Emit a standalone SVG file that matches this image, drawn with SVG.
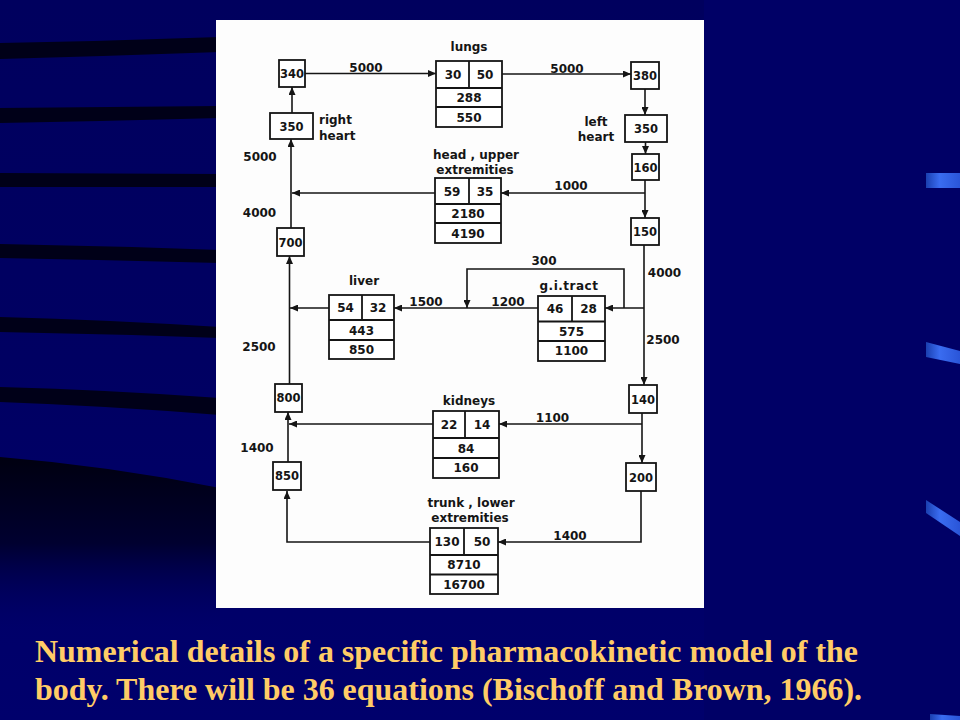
<svg xmlns="http://www.w3.org/2000/svg" width="960" height="720" viewBox="0 0 960 720">
<defs>
<style>
.bx{fill:#fff;stroke:#151515;stroke-width:1.8}
.dv{stroke:#151515;stroke-width:1.8;fill:none}
.t{font-family:"DejaVu Sans",sans-serif;font-weight:bold;font-size:12px;fill:#151515;text-anchor:middle;dominant-baseline:central}
.s{font-size:11.5px}
.ln{fill:none;stroke:#151515;stroke-width:1.6}
.ar{marker-end:url(#ah)}
.dk{fill:#000018}
.cap{font-family:"Liberation Serif","Times New Roman",serif;font-weight:bold;font-size:32px;fill:#FFCC66}
</style>
<marker id="ah" markerWidth="8" markerHeight="7" refX="8" refY="3.5" orient="auto" markerUnits="userSpaceOnUse">
<path d="M0,0 L8,3.5 L0,7 z" fill="#151515"/>
</marker>
<linearGradient id="bg" x1="0" y1="0" x2="0" y2="1">
<stop offset="0" stop-color="#00005e"/>
<stop offset="0.5" stop-color="#000062"/>
<stop offset="1" stop-color="#00006c"/>
</linearGradient>
<linearGradient id="dark" x1="0" y1="0" x2="0" y2="1">
<stop offset="0" stop-color="#000010"/>
<stop offset="0.5" stop-color="#000030"/>
<stop offset="1" stop-color="#000062" stop-opacity="0"/>
</linearGradient>
<linearGradient id="bl" x1="0" y1="0" x2="1" y2="0">
<stop offset="0" stop-color="#1a3fb0"/>
<stop offset="0.4" stop-color="#3a6cf0"/>
<stop offset="1" stop-color="#2a55d8"/>
</linearGradient>
</defs>

<g id="background">
<rect x="0" y="0" width="960" height="720" fill="url(#bg)"/>
<rect x="704" y="0" width="256" height="720" fill="#000066"/>
<path class="dk" d="M0,43 Q110,41 220,37 L220,52 Q110,56 0,59 Z"/>
<path class="dk" d="M0,108 Q110,107 220,106 L220,118 Q110,121 0,123 Z"/>
<path class="dk" d="M0,173 L220,174 L220,187 L0,187 Z"/>
<path class="dk" d="M0,244 Q110,246 220,250 L220,263 Q110,260 0,258 Z"/>
<path class="dk" d="M0,317 Q110,320 220,327 L220,338 Q110,334 0,332 Z"/>
<path class="dk" d="M0,387 Q110,390 220,398 L220,415 Q110,406 0,402 Z"/>
<path d="M0,457 Q110,466 220,488 L220,630 L0,630 Z" fill="url(#dark)"/>
<path d="M926,173 L960,173 L960,188 L926,188 Z" fill="url(#bl)"/>
<path d="M926,342 L960,351 L960,364 L926,357 Z" fill="url(#bl)"/>
<path d="M926,500 L960,522 L960,536 L926,513 Z" fill="url(#bl)"/>
<path d="M930,714 L960,716 L960,720 L930,720 Z" fill="url(#bl)"/>
</g>

<rect id="panel" x="216" y="20" width="488" height="588" fill="#fdfdfd"/>

<g id="connectors">
<path class="ln ar" d="M305,73.5 H436"/>
<path class="ln ar" d="M502,74 H631"/>
<path class="ln ar" d="M645,89 V115"/>
<path class="ln ar" d="M645.5,142 V154"/>
<path class="ln ar" d="M645,180 V218"/>
<path class="ln ar" d="M645,193 H501"/>
<path class="ln ar" d="M435,193 H292"/>
<path class="ln ar" d="M291,228 V139"/>
<path class="ln ar" d="M292,113 V87"/>
<path class="ln ar" d="M644,245 V385"/>
<path class="ln ar" d="M644,308 H605"/>
<path class="ln ar" d="M624,308 V269 H467 V308"/>
<path class="ln ar" d="M538,308 H394"/>
<path class="ln ar" d="M329,308 H290"/>
<path class="ln ar" d="M289.5,384 V256"/>
<path class="ln ar" d="M642,413 V463"/>
<path class="ln ar" d="M642,424 H499"/>
<path class="ln ar" d="M433,424 H289"/>
<path class="ln ar" d="M288,462 V412"/>
<path class="ln ar" d="M641,491 V542 H498"/>
<path class="ln ar" d="M430,542 H287 V491"/>
</g>

<g id="flow-labels">
<text class="t" x="366" y="68">5000</text>
<text class="t" x="567" y="68.5">5000</text>
<text class="t" x="260" y="157">5000</text>
<text class="t" x="571" y="186">1000</text>
<text class="t" x="259.5" y="213">4000</text>
<text class="t" x="544" y="261">300</text>
<text class="t" x="664.5" y="273">4000</text>
<text class="t" x="426" y="302">1500</text>
<text class="t" x="508" y="302">1200</text>
<text class="t" x="663" y="339.5">2500</text>
<text class="t" x="259" y="347">2500</text>
<text class="t" x="552.5" y="418">1100</text>
<text class="t" x="257" y="448">1400</text>
<text class="t" x="570" y="536">1400</text>
</g>

<g id="b340"><rect class="bx" x="279" y="60" width="26" height="27"/><text class="t s" x="292" y="74">340</text></g>
<g id="right-heart"><rect class="bx" x="270" y="113" width="43" height="26"/><text class="t s" x="291.5" y="126.5">350</text>
<text class="t" x="319" y="120" style="text-anchor:start">right</text><text class="t" x="319" y="136" style="text-anchor:start">heart</text></g>
<g id="b700"><rect class="bx" x="277" y="228" width="27" height="28"/><text class="t s" x="290.5" y="242.5">700</text></g>
<g id="b800"><rect class="bx" x="275" y="384" width="27" height="28"/><text class="t s" x="288.5" y="398">800</text></g>
<g id="b850"><rect class="bx" x="273" y="462" width="28" height="28"/><text class="t s" x="287" y="476">850</text></g>
<g id="b380"><rect class="bx" x="631" y="62" width="28" height="27"/><text class="t s" x="645" y="76">380</text></g>
<g id="left-heart"><rect class="bx" x="625" y="115" width="42" height="27"/><text class="t s" x="646" y="128.5">350</text>
<text class="t" x="596" y="122">left</text><text class="t" x="596" y="137">heart</text></g>
<g id="b160"><rect class="bx" x="632" y="154" width="27" height="26"/><text class="t s" x="645.5" y="167.5">160</text></g>
<g id="b150"><rect class="bx" x="631" y="218" width="28" height="27"/><text class="t s" x="645" y="231.5">150</text></g>
<g id="b140"><rect class="bx" x="629" y="385" width="28" height="28"/><text class="t s" x="643" y="399.5">140</text></g>
<g id="b200"><rect class="bx" x="626" y="463" width="30" height="28"/><text class="t s" x="641" y="477.5">200</text></g>

<g id="lungs">
<text class="t" x="469" y="47">lungs</text>
<rect class="bx" x="436" y="61" width="66" height="66"/>
<path class="dv" d="M436,88 H502 M436,107 H502 M469,61 V88"/>
<text class="t" x="453" y="75">30</text><text class="t" x="485" y="75">50</text>
<text class="t" x="469" y="98">288</text><text class="t" x="469" y="117.5">550</text>
</g>
<g id="head">
<text class="t" x="476" y="155">head , upper</text>
<text class="t" x="475" y="170">extremities</text>
<rect class="bx" x="435" y="178" width="66" height="65"/>
<path class="dv" d="M435,204 H501 M435,223 H501 M469,178 V204"/>
<text class="t" x="452" y="191.5">59</text><text class="t" x="485" y="191.5">35</text>
<text class="t" x="468" y="214">2180</text><text class="t" x="468" y="233.5">4190</text>
</g>
<g id="liver">
<text class="t" x="364" y="281">liver</text>
<rect class="bx" x="329" y="295" width="65" height="64"/>
<path class="dv" d="M329,320 H394 M329,340 H394 M362,295 V320"/>
<text class="t" x="345.5" y="308">54</text><text class="t" x="378" y="308">32</text>
<text class="t" x="361.5" y="330.5">443</text><text class="t" x="361.5" y="350">850</text>
</g>
<g id="gi-tract">
<text class="t" x="569" y="286" style="letter-spacing:0.5px">g.i.tract</text>
<rect class="bx" x="538" y="296" width="67" height="65"/>
<path class="dv" d="M538,321.5 H605 M538,341 H605 M572,296 V321.5"/>
<text class="t" x="555" y="309">46</text><text class="t" x="588.5" y="309">28</text>
<text class="t" x="571.5" y="331.5">575</text><text class="t" x="571.5" y="351">1100</text>
</g>
<g id="kidneys">
<text class="t" x="469" y="401">kidneys</text>
<rect class="bx" x="433" y="411" width="66" height="67"/>
<path class="dv" d="M433,438 H499 M433,458 H499 M465,411 V438"/>
<text class="t" x="449" y="425">22</text><text class="t" x="482" y="425">14</text>
<text class="t" x="466" y="448.5">84</text><text class="t" x="466" y="468">160</text>
</g>
<g id="trunk">
<text class="t" x="471" y="503">trunk , lower</text>
<text class="t" x="470" y="517.5">extremities</text>
<rect class="bx" x="430" y="528" width="68" height="66"/>
<path class="dv" d="M430,555 H498 M430,574.5 H498 M464,528 V555"/>
<text class="t" x="447" y="542">130</text><text class="t" x="482" y="542">50</text>
<text class="t" x="464" y="565">8710</text><text class="t" x="464" y="584.5">16700</text>
</g>

<g id="caption">
<text class="cap" x="35" y="662" textLength="823" lengthAdjust="spacingAndGlyphs">Numerical details of a specific pharmacokinetic model of the</text>
<text class="cap" x="35" y="700" textLength="827" lengthAdjust="spacingAndGlyphs">body. There will be 36 equations (Bischoff and Brown, 1966).</text>
</g>
</svg>
